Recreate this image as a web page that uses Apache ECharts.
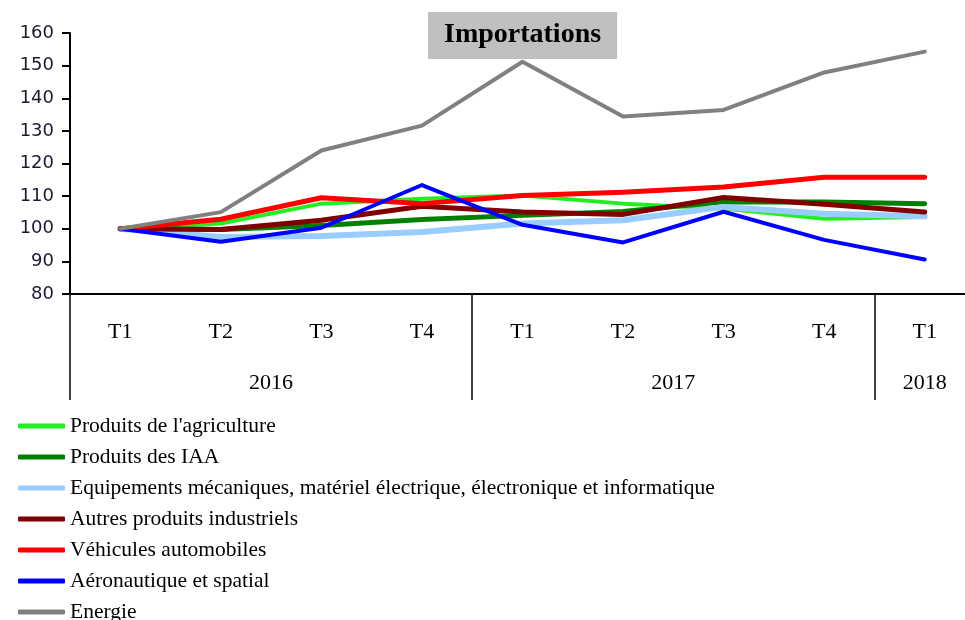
<!DOCTYPE html>
<html>
<head>
<meta charset="utf-8">
<script src="https://cdn.jsdelivr.net/npm/echarts@6/dist/echarts.min.js"></script>
<style>html,body{margin:0;padding:0;background:#fff}#c{width:965px;height:620px}</style>
</head>
<body>
<div id="c"></div>
<script>
const quarters = ['T1','T2','T3','T4','T1','T2','T3','T4','T1'];
const years = ['2016','2017','2018'];
const yearSpans = [4,4,1];
const yTicks = [80,90,100,110,120,130,140,150,160];
const seriesNames = [
  "Produits de l'agriculture",
  "Produits des IAA",
  "Equipements mécaniques, matériel électrique, électronique et informatique",
  "Autres produits industriels",
  "Véhicules automobiles",
  "Aéronautique et spatial",
  "Energie"
];
const agriculture = [100, 101.6, 107.7, 109.2, 110.2, 107.7, 106.2, 103.1, 103.6];
const iaa         = [100, 99.8, 101, 102.8, 104.1, 105.3, 108.3, 108.2, 107.7];
const equipements = [100, 97.5, 97.8, 99, 101.6, 102.6, 106.7, 104.6, 103.8];
const autres      = [100, 99.8, 102.6, 106.9, 105.1, 104.4, 109.6, 107.5, 105.1];
const vehicules   = [100, 102.9, 109.5, 107.7, 110.2, 111.2, 112.8, 115.8, 115.8];
const aero        = [100, 96, 100.3, 113.4, 101.2, 95.8, 105.2, 96.6, 90.6];
const energie     = [100, 105.1, 124, 131.6, 151.2, 134.4, 136.4, 147.9, 154.3];
const colors = ['#22ee22','#008000','#99ccff','#800000','#ff0000','#0000ff','#808080'];
const widths = [4,5,6,5,5,4,4];

const allData = [agriculture, iaa, equipements, autres, vehicules, aero, energie];

const yearBounds = [0]; const yearCenters = [];
let acc = 0;
yearSpans.forEach(s => { yearCenters.push(acc + s/2); acc += s; yearBounds.push(acc); });

const chart = echarts.init(document.getElementById('c'));
const serifFont = '"Liberation Serif", "Times New Roman", serif';
chart.setOption({
  animation: false,
  title: {
    text: 'Importations',
    left: 428, top: 12,
    backgroundColor: '#c0c0c0',
    padding: [9, 16, 10, 16],
    textStyle: { fontFamily: serifFont, fontWeight: 'bold', fontSize: 28, color: '#000' }
  },
  legend: {
    orient: 'vertical',
    left: 18, top: 415, height: 240, padding: 0,
    icon: 'roundRect',
    itemWidth: 47, itemHeight: 5,
    itemGap: 9,
    textStyle: { fontFamily: serifFont, fontSize: 21.5, lineHeight: 20, color: '#000' },
    data: seriesNames
  },
  grid: { left: 70, top: 33, width: 905, height: 261, outerBoundsMode: 'none', containLabel: false },
  xAxis: [
    {
      type: 'category', data: quarters, position: 'bottom',
      boundaryGap: true,
      axisLine: { lineStyle: { color: '#000', width: 2 } },
      axisTick: { length: 54, lineStyle: { color: '#000', width: 1.5 } },
      axisLabel: { margin: 27, fontFamily: serifFont, fontSize: 22, color: '#000' }
    },
    {
      type: 'value', position: 'bottom', min: 0, max: quarters.length,
      axisLine: { show: false },
      splitLine: { show: false },
      axisTick: { show: true, length: 106, customValues: yearBounds, lineStyle: { color: '#000', width: 1.5 } },
      axisLabel: {
        customValues: yearCenters, margin: 78,
        fontFamily: serifFont, fontSize: 22, color: '#000',
        formatter: v => years[yearCenters.indexOf(v)] || ''
      }
    }
  ],
  yAxis: {
    type: 'value', min: 80, max: 160, interval: 10,
    axisLine: { show: true, lineStyle: { color: '#000', width: 2 } },
    axisTick: { show: true, length: 8, lineStyle: { color: '#000', width: 2 } },
    splitLine: { show: false },
    axisLabel: { margin: 16, fontFamily: '"DejaVu Sans", sans-serif', fontSize: 18, color: '#1a1a33',
      formatter: v => yTicks.includes(v) ? String(v) : '' }
  },
  series: seriesNames.map((n, i) => ({
    name: n, type: 'line', xAxisIndex: 0,
    data: allData[i], showSymbol: false, symbol: 'none',
    lineStyle: { color: colors[i], width: widths[i], cap: 'round', join: 'round' },
    itemStyle: { color: colors[i] }
  }))
});
</script>
</body>
</html>
